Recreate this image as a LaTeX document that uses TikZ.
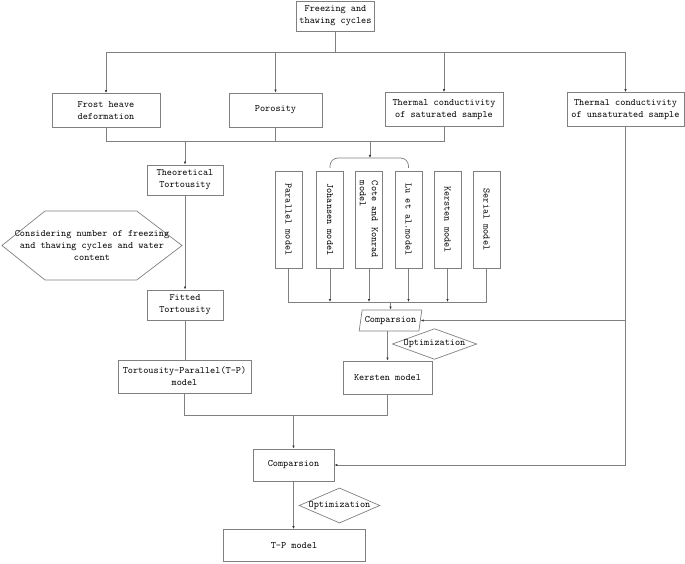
\documentclass[tikz,border=0pt]{standalone}
\usepackage{fontspec}
\usetikzlibrary{shapes.geometric,arrows.meta}
\begin{document}
\begin{tikzpicture}[x=1pt,y=-1pt,
  font=\ttfamily\fontsize{9.8}{12}\selectfont,
  box/.style={draw=black!50,line width=0.7pt,inner sep=0pt,align=center,fill=white},
  mbox/.style={box,rotate=-90,minimum width=97pt,minimum height=27pt},
  ln/.style={draw=black!50,line width=0.7pt},
  arr/.style={ln,-{Latex[length=3pt,width=2.4pt,color=black!80]}},
]
\useasboundingbox (0,0) rectangle (685,564);

\node[box,minimum width=78pt,minimum height=30pt] (top) at (335.5,16) {Freezing and\\thawing cycles};
\node[box,minimum width=108pt,minimum height=34pt] (frost) at (106,110.5) {Frost heave\\deformation};
\node[box,minimum width=93pt,minimum height=34pt] (por) at (275.5,110) {Porosity};
\node[box,minimum width=118pt,minimum height=34pt] (sat) at (444,109.5) {Thermal conductivity\\of saturated sample};
\node[box,minimum width=117pt,minimum height=34pt] (unsat) at (625.5,109.5) {Thermal conductivity\\of unsaturated sample};

\node[box,minimum width=76pt,minimum height=30pt] (theo) at (185,180) {Theoretical\\Tortousity};
\node[box,minimum width=76pt,minimum height=30pt] (fit) at (185,305) {Fitted\\Tortousity};

\draw[ln] (2,245.5) -- (45,211) -- (136.7,211) -- (182,245.5) -- (136.7,280) -- (45,280) -- cycle;
\node[align=center,inner sep=0pt] (hex) at (92,245.5) {Considering number of freezing\\and thawing cycles and water\\content};

\node[mbox] (m1) at (288.5,219.5) {Parallel model};
\node[mbox] (m2) at (330,219.5) {Johansen model};
\node[mbox,align=left] (m3) at (369,219.5) {Cote and Konrad\\model};
\node[mbox] (m4) at (408.5,219.5) {Lu et al.model};
\node[mbox] (m5) at (447.5,219.5) {Kersten model};
\node[mbox] (m6) at (486.5,219.5) {Serial model};

\node[trapezium,trapezium left angle=72,trapezium right angle=108,trapezium stretches=true,
  draw=black!50,line width=0.7pt,inner sep=0pt,minimum width=63pt,minimum height=21pt] (comp1) at (390.5,320.5) {Comparsion};
\node[diamond,draw=black!50,line width=0.7pt,inner sep=0pt,minimum width=77pt,minimum height=28pt,aspect=2.75] (opt1) at (434.5,344) {Optimization};

\node[box,minimum width=133pt,minimum height=33pt] (tpp) at (184.5,376.5) {Tortousity-Parallel(T-P)\\model};
\node[box,minimum width=89pt,minimum height=33pt] (kers) at (387.5,377.5) {Kersten model};

\node[box,minimum width=81pt,minimum height=32pt] (comp2) at (293.5,465) {Comparsion};
\node[diamond,draw=black!50,line width=0.7pt,inner sep=0pt,minimum width=74pt,minimum height=33pt,aspect=2.3] (opt2) at (339.5,505.5) {Optimization};
\node[box,minimum width=142pt,minimum height=32pt] (tpm) at (294,545.5) {T-P model};

% top bus
\coordinate (b1) at (335.5,52.5);
\draw[ln] (top.south) -- (b1);
\draw[arr] (b1) -| (frost.north);
\draw[arr] (b1) -| (por.north);
\draw[arr] (b1) -| (sat.north);
\draw[arr] (b1) -| (unsat.north);

% second bus
\coordinate (b2) at (0,141);
\draw[ln] (frost.south) -- (frost.south |- b2) -- (sat.south |- b2) -- (sat.south);
\draw[ln] (por.south) -- (por.south |- b2);
\draw[arr] (theo.north |- b2) -- (theo.north);
\coordinate (brtop) at (370,158);
\draw[arr] (brtop |- b2) -- (brtop);
\draw[ln,rounded corners=8pt] (m2.west |- 0,168) -- (m2.west |- brtop) -- (m4.west |- brtop) -- (m4.west |- 0,168);

\draw[arr] (theo.south) -- (fit.north);
\draw[ln] (fit.south) -- (tpp.north -| fit.south);

% models bus
\coordinate (b3) at (0,302);
\draw[ln] (m1.east) -- (m1.east |- b3) -- (m6.east |- b3) -- (m6.east);
\draw[arr] (m2.east) -- (m2.east |- b3);
\draw[arr] (m3.east) -- (m3.east |- b3);
\draw[arr] (m4.east) -- (m4.east |- b3);
\draw[arr] (m5.east) -- (m5.east |- b3);
\draw[arr] (comp1.north |- b3) -- (comp1.north);
\draw[arr] (kers.north |- comp1.south) -- (kers.north);

% unsaturated feed
\draw[ln] (unsat.south) -- (unsat.south |- comp2.east);
\draw[arr] (unsat.south |- comp2.east) -- (comp2.east);
\draw[arr] (unsat.south |- comp1.east) -- (comp1.east);

% join
\coordinate (b4) at (0,415);
\draw[ln] (tpp.south) -- (tpp.south |- b4) -- (kers.south |- b4) -- (kers.south);
\draw[arr] (comp2.north |- b4) -- (comp2.north);
\draw[arr] (comp2.south) -- (tpm.north -| comp2.south);
\end{tikzpicture}
\end{document}
